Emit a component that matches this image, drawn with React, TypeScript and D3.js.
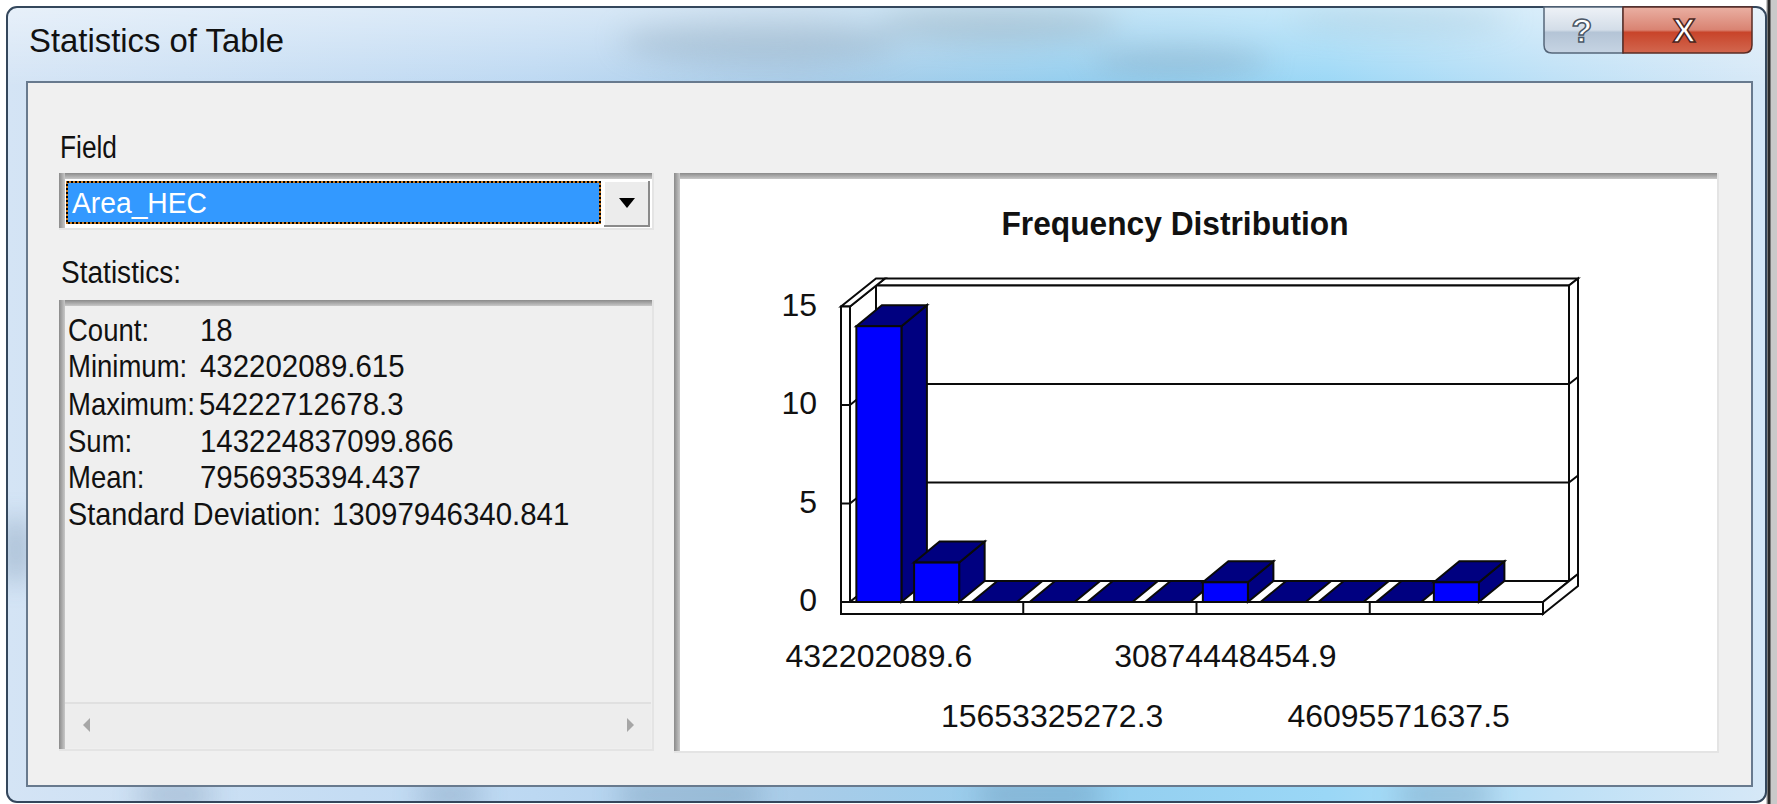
import * as d3 from 'd3';

// frequency distribution (one slot per bin, last slot empty)
const counts: (number | null)[] = [14, 2, 0, 0, 0, 0, 1, 0, 0, 0, 1, null];
const bins = counts.map((_, i) => i);
const yTicks = [0, 5, 10, 15];
const xTickBins = [0, 3, 6, 9];
const xTickLabels = ['432202089.6', '15653325272.3', '30874448454.9', '46095571637.5'];

const fieldName = 'Area_HEC';
const statLabels = ['Count:', 'Minimum:', 'Maximum:', 'Sum:', 'Mean:', 'Standard Deviation:'];
const statValues = ['18', '432202089.615', '54222712678.3', '143224837099.866', '7956935394.437', '13097946340.841'];

const FONT = '"Liberation Sans", Arial, sans-serif';

const pts = (p: number[][]) => p.map(q => q.join(',')).join(' ');

function Sunken({ x, y, w, h, fill }: { x: number; y: number; w: number; h: number; fill: string }) {
  return (
    <g>
      <rect x={x} y={y} width={w} height={h} fill={fill} />
      <rect x={x} y={y} width={w} height={6} fill="url(#sunkTop)" />
      <rect x={x} y={y} width={6} height={h} fill="url(#sunkLeft)" />
      <line x1={x + w - 1} y1={y} x2={x + w - 1} y2={y + h} stroke="#e4e4e4" strokeWidth={2} />
      <line x1={x} y1={y + h - 1} x2={x + w} y2={y + h - 1} stroke="#e4e4e4" strokeWidth={2} />
    </g>
  );
}

// narrow dialog text: Arial squeezed horizontally
function Narrow({ x, y, sx, children }: { x: number; y: number; sx: number; children: string }) {
  return (
    <text transform={`translate(${x},${y}) scale(${sx},1)`} fontSize={32} fill="#111">
      {children}
    </text>
  );
}

export default function App() {
  const W = 1777;
  const H = 804;

  // plot box
  const xl = 850;
  const xr = 1543;
  const x = d3.scaleBand<number>().domain(bins).range([xl, xr]).paddingInner(0.22).paddingOuter(0.11);
  const y = d3.scaleLinear().domain([0, 15]).range([602, 306.5]);
  const y0 = y(0);
  const yTop = y(15);
  const dx = 26, dy = -21; // depth of the box
  const tx = 9, ty = -7; // back wall thickness
  const bdx = 25.5, bdy = -21; // bar depth
  const wallW = 9; // left wall thickness
  const floorH = 12;

  const valueX = [200, 200, 199, 200, 200, 332];
  const statBase = [341, 377, 415, 452, 488, 525];

  const stroke = '#0a0a0a';
  const inner = yTicks.filter(v => v > 0 && v < 15);

  return (
    <svg width={W} height={H} style={{ position: 'absolute', left: 0, top: 0 }} fontFamily={FONT}>
      <defs>
        <linearGradient id="glass" x1="0" x2="1" y1="0" y2="0">
          <stop offset="0" stopColor="#d4e4f5" />
          <stop offset="0.3" stopColor="#bcd8f2" />
          <stop offset="0.45" stopColor="#a9cce8" />
          <stop offset="0.6" stopColor="#93cdee" />
          <stop offset="0.75" stopColor="#9ad7f6" />
          <stop offset="0.88" stopColor="#bde0f6" />
          <stop offset="1" stopColor="#d6e8f7" />
        </linearGradient>
        <linearGradient id="shine" x1="0" x2="0" y1="0" y2="1">
          <stop offset="0" stopColor="#fff" stopOpacity="0.45" />
          <stop offset="0.1" stopColor="#fff" stopOpacity="0" />
        </linearGradient>
        <linearGradient id="sunkTop" x1="0" x2="0" y1="0" y2="1">
          <stop offset="0" stopColor="#8a8a8a" />
          <stop offset="1" stopColor="#c8c8c8" />
        </linearGradient>
        <linearGradient id="sunkLeft" x1="0" x2="1" y1="0" y2="0">
          <stop offset="0" stopColor="#8a8a8a" />
          <stop offset="1" stopColor="#c8c8c8" />
        </linearGradient>
        <linearGradient id="helpBtn" x1="0" x2="0" y1="0" y2="1">
          <stop offset="0" stopColor="#eef2f7" />
          <stop offset="0.5" stopColor="#d3dde8" />
          <stop offset="0.55" stopColor="#b4c4d6" />
          <stop offset="1" stopColor="#c6d4e3" />
        </linearGradient>
        <linearGradient id="closeBtn" x1="0" x2="0" y1="0" y2="1">
          <stop offset="0" stopColor="#eab0a3" />
          <stop offset="0.5" stopColor="#d98372" />
          <stop offset="0.55" stopColor="#c8442a" />
          <stop offset="1" stopColor="#d2674f" />
        </linearGradient>
        <filter id="blur" x="-50%" y="-50%" width="200%" height="200%">
          <feGaussianBlur stdDeviation="14" />
        </filter>
        <clipPath id="winClip">
          <rect x={7} y={7} width={1759} height={795} rx={10} />
        </clipPath>
      </defs>

      <rect x={0} y={0} width={W} height={H} fill="#ffffff" />
      <rect x={1766} y={0} width={11} height={H} fill="#c9c9c9" />
      <line x1={1769} y1={0} x2={1769} y2={H} stroke="#2b2b2b" strokeWidth={3} />

      {/* window glass frame */}
      <g clipPath="url(#winClip)">
        <rect x={7} y={7} width={1759} height={795} fill="url(#glass)" />
        <g filter="url(#blur)" opacity={0.55}>
          <ellipse cx={760} cy={40} rx={140} ry={22} fill="#7f9fb8" />
          <ellipse cx={1000} cy={22} rx={120} ry={18} fill="#6d8fa6" />
          <ellipse cx={1180} cy={60} rx={90} ry={16} fill="#7aa5c2" />
          <ellipse cx={1400} cy={18} rx={110} ry={14} fill="#7fb2cf" />
          <rect x={140} y={788} width={70} height={14} fill="#4f6f90" />
          <rect x={420} y={788} width={60} height={14} fill="#4f6f90" />
          <rect x={620} y={788} width={140} height={14} fill="#4a7390" />
          <rect x={980} y={788} width={120} height={14} fill="#4f6f90" />
          <rect x={1400} y={788} width={90} height={14} fill="#4f6f90" />
          <rect x={8} y={520} width={16} height={60} fill="#4f6f90" />
        </g>
        <rect x={7} y={7} width={1759} height={795} fill="url(#shine)" />
      </g>
      <rect x={7} y={7} width={1759} height={795} rx={10} fill="none" stroke="#34475c" strokeWidth={2} />

      <text x={29} y={52} fontSize={34} fill="#111" textLength={255} lengthAdjust="spacingAndGlyphs">
        Statistics of Table
      </text>

      {/* caption buttons */}
      <path d="M1544,7 H1623 V53 H1552 Q1544,53 1544,45 Z" fill="url(#helpBtn)" stroke="#56677a" strokeWidth={1.5} />
      <path d="M1623,7 H1752 V45 Q1752,53 1744,53 H1623 Z" fill="url(#closeBtn)" stroke="#5a2c24" strokeWidth={1.5} />
      <text x={1582} y={42} fontSize={34} fontWeight="bold" textAnchor="middle" fill="#fff" stroke="#4b5868" strokeWidth={1.5}>
        ?
      </text>
      <text x={1684} y={42} fontSize={34} fontWeight="bold" textAnchor="middle" fill="#fff" stroke="#4a2520" strokeWidth={1.5}>
        X
      </text>

      {/* client area */}
      <rect x={27} y={82} width={1725} height={704} fill="#f0f0f0" stroke="#687a8e" strokeWidth={2} />

      <text x={60} y={158} fontSize={31} fill="#111" textLength={57} lengthAdjust="spacingAndGlyphs">
        Field
      </text>

      {/* combo box */}
      <Sunken x={59} y={173} w={595} h={57} fill="#ffffff" />
      <rect x={67} y={182} width={533} height={41} fill="#3399ff" stroke="#c8781e" strokeWidth={2} />
      <rect x={67} y={182} width={533} height={41} fill="none" stroke="#000" strokeWidth={2} strokeDasharray="2 2" />
      <text x={72} y={213} fontSize={30} fill="#fff" textLength={135} lengthAdjust="spacingAndGlyphs">
        {fieldName}
      </text>
      <rect x={604} y={181} width={45} height={45} fill="#ececec" />
      <path d="M604,226 V181 H649" fill="none" stroke="#ffffff" strokeWidth={2} />
      <path d="M604,226 H649 V181" fill="none" stroke="#8a8a8a" strokeWidth={2} />
      <path d="M619,198 L635,198 L627,208 Z" fill="#000" />

      <text x={61} y={283} fontSize={31} fill="#111" textLength={120} lengthAdjust="spacingAndGlyphs">
        Statistics:
      </text>

      {/* statistics list */}
      <Sunken x={59} y={300} w={595} h={451} fill="#efefef" />
      {statLabels.map((s, i) => (
        <g key={s}>
          <Narrow x={68} y={statBase[i]} sx={i === 5 ? 0.9 : 0.86}>
            {s}
          </Narrow>
          <Narrow x={valueX[i]} y={statBase[i]} sx={0.92}>
            {statValues[i]}
          </Narrow>
        </g>
      ))}
      <rect x={65} y={703} width={586} height={45} fill="#ededed" />
      <line x1={65} y1={703} x2={651} y2={703} stroke="#e0e0e0" strokeWidth={2} />
      <path d="M83,725 L90,718 L90,732 Z" fill="#a6a6a6" />
      <path d="M634,725 L627,718 L627,732 Z" fill="#a6a6a6" />

      {/* chart panel */}
      <Sunken x={674} y={173} w={1045} h={580} fill="#ffffff" />

      <text x={1175} y={235} fontSize={33} fontWeight="bold" textAnchor="middle" fill="#111" textLength={347} lengthAdjust="spacingAndGlyphs">
        Frequency Distribution
      </text>

      <g stroke={stroke} strokeWidth={2} strokeLinejoin="miter" fill="#fff">
        {/* back wall */}
        <polygon points={pts([[xl + dx, yTop + dy], [xr + dx, yTop + dy], [xr + dx + tx, yTop + dy + ty], [xl + dx + tx, yTop + dy + ty]])} />
        <polygon points={pts([[xr + dx, yTop + dy], [xr + dx + tx, yTop + dy + ty], [xr + dx + tx, y0 + dy + ty], [xr + dx, y0 + dy]])} />
        <rect x={xl + dx} y={yTop + dy} width={xr - xl} height={y0 - yTop} />
        {/* left wall inner face */}
        <polygon points={pts([[xl, yTop], [xl + dx, yTop + dy], [xl + dx, y0 + dy], [xl, y0]])} />
        {/* floor */}
        <polygon points={pts([[xl, y0], [xr, y0], [xr + dx, y0 + dy], [xl + dx, y0 + dy]])} />
        <polygon points={pts([[xr, y0], [xr + dx + tx, y0 + dy + ty], [xr + dx + tx, y0 + dy + ty + floorH], [xr, y0 + floorH]])} />
        {/* grid lines */}
        {inner.map(v => (
          <polyline key={v} fill="none" points={pts([[xl, y(v)], [xl + dx, y(v) + dy], [xr + dx, y(v) + dy], [xr + dx + tx, y(v) + dy + ty]])} />
        ))}
        {/* left wall */}
        <polygon points={pts([[xl - wallW, yTop], [xl, yTop], [xl + dx + tx, yTop + dy + ty], [xl - wallW + dx + tx, yTop + dy + ty]])} />
        <rect x={xl - wallW} y={yTop} width={wallW} height={y0 + floorH - yTop} />
        {inner.map(v => (
          <line key={v} x1={xl - wallW} y1={y(v)} x2={xl} y2={y(v)} />
        ))}
        {/* floor front */}
        <rect x={xl - wallW} y={y0} width={xr - xl + wallW} height={floorH} />
        {xTickBins.slice(1).map(b => {
          const xx = (x(b) as number) - (x.step() * x.paddingInner()) / 2;
          return <line key={b} x1={xx} y1={y0} x2={xx} y2={y0 + floorH} />;
        })}
      </g>

      {/* bars */}
      <g stroke={stroke} strokeWidth={2} strokeLinejoin="miter">
        {counts.map((c, i) => {
          if (c === null) return null;
          const bx = x(i) as number;
          const bw = x.bandwidth();
          const top = y(c);
          const topFace = pts([[bx, top], [bx + bw, top], [bx + bw + bdx, top + bdy], [bx + bdx, top + bdy]]);
          if (c === 0) return <polygon key={i} points={topFace} fill="#000080" />;
          return (
            <g key={i}>
              <polygon points={pts([[bx + bw, top], [bx + bw + bdx, top + bdy], [bx + bw + bdx, y0 + bdy], [bx + bw, y0]])} fill="#000080" />
              <polygon points={topFace} fill="#000080" />
              <rect x={bx} y={top} width={bw} height={y0 - top} fill="#0000ff" />
            </g>
          );
        })}
      </g>

      {/* axis labels */}
      {yTicks.map(v => (
        <text key={v} x={817} y={y(v) + 9} fontSize={32} textAnchor="end" fill="#111">
          {v}
        </text>
      ))}
      {xTickBins.map((b, i) => (
        <text
          key={b}
          x={(x(b) as number) + x.bandwidth() / 2}
          y={i % 2 === 0 ? 667 : 727}
          fontSize={32}
          textAnchor="middle"
          fill="#111"
        >
          {xTickLabels[i]}
        </text>
      ))}
    </svg>
  );
}
